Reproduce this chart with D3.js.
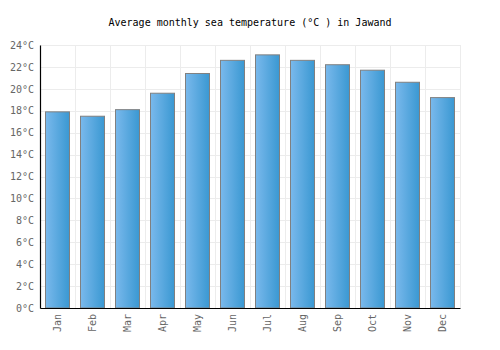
<!DOCTYPE html>
<html><head><meta charset="utf-8">
<script src="https://cdn.jsdelivr.net/npm/d3@7"></script>
<style>body{margin:0;background:#fff}svg{display:block}</style>
</head><body>
<script>
const months = ["Jan","Feb","Mar","Apr","May","Jun","Jul","Aug","Sep","Oct","Nov","Dec"];
const temps = [17.9,17.5,18.1,19.6,21.4,22.6,23.1,22.6,22.2,21.7,20.6,19.2];
const yTicks = [0,2,4,6,8,10,12,14,16,18,20,22,24];
const title = "Average monthly sea temperature (°C ) in Jawand";

const W=500,H=350,m={l:40,r:40,t:45,b:42};
const svg=d3.select("body").append("svg").attr("width",W).attr("height",H);
const defs=svg.append("defs");
const g=defs.append("linearGradient").attr("id","bg").attr("x1","0%").attr("x2","100%");
g.append("stop").attr("offset","0%").attr("stop-color","#7ab9ec");
g.append("stop").attr("offset","100%").attr("stop-color","#3a98d2");

const x=d3.scaleBand().domain(months).range([m.l,W-m.r]).paddingInner(0.31).paddingOuter(0.155);
const xb=d3.scaleBand().domain(months).range([m.l,W-m.r]);
const y=d3.scaleLinear().domain([0,24]).range([H-m.b,m.t]);
const font="'DejaVu Sans Mono', monospace";

// gridlines
svg.append("g").selectAll("line").data(yTicks).join("line")
  .attr("x1",m.l).attr("x2",W-m.r).attr("y1",d=>Math.round(y(d))+0.5).attr("y2",d=>Math.round(y(d))+0.5)
  .attr("stroke","#ececec").attr("stroke-width",1);
svg.append("g").selectAll("line").data(months).join("line")
  .attr("x1",d=>Math.round(xb(d)+xb.bandwidth())+0.5).attr("x2",d=>Math.round(xb(d)+xb.bandwidth())+0.5)
  .attr("y1",m.t).attr("y2",H-m.b)
  .attr("stroke","#ececec").attr("stroke-width",1);

// bars
svg.append("g").selectAll("rect").data(temps).join("rect")
  .attr("x",(d,i)=>Math.round(x(months[i]))+0.5)
  .attr("width",Math.round(x.bandwidth()))
  .attr("y",d=>y(d))
  .attr("height",d=>y(0)-y(d))
  .attr("fill","url(#bg)").attr("stroke","#808080").attr("stroke-width",1);

// axes
const ya=svg.append("g").attr("transform",`translate(${m.l},0)`)
  .call(d3.axisLeft(y).tickValues(yTicks).tickSize(0).tickPadding(6).tickFormat(d=>d+"°C"));
ya.select(".domain").attr("stroke","#000").attr("stroke-width",1.2);
ya.selectAll("text").attr("font-family",font).attr("font-size",10).attr("fill","#666");

const xa=svg.append("g").attr("transform",`translate(0,${H-m.b})`)
  .call(d3.axisBottom(xb).tickSize(0));
xa.select(".domain").attr("stroke","#000").attr("stroke-width",1.2);
xa.selectAll("text").attr("font-family",font).attr("font-size",10).attr("fill","#666")
  .attr("text-anchor","end").attr("transform","rotate(-90)")
  .attr("x",-6).attr("y",0).attr("dy","0.35em");

svg.append("text").attr("x",250).attr("y",26).attr("text-anchor","middle")
  .attr("font-family",font).attr("font-size",10).attr("fill","#000").text(title);
</script>
</body></html>
